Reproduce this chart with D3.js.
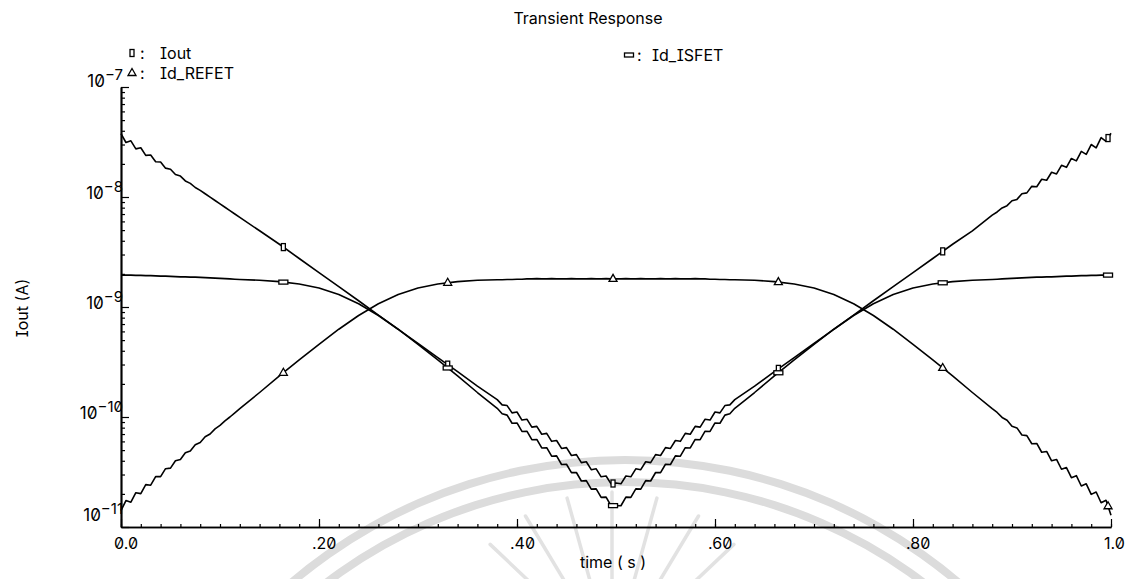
<!DOCTYPE html>
<html>
<head>
<meta charset="utf-8">
<script src="https://cdn.jsdelivr.net/npm/d3@7"></script>
<style>
  html, body { margin: 0; padding: 0; background: #fff; }
  svg text {
    font-family: Inter, "DejaVu Sans", sans-serif;
    font-feature-settings: "zero" 1, "cv08" 1;
    fill: #000;
  }
</style>
</head>
<body>
<svg id="chart" width="1142" height="579"></svg>
<script>
// Sample times of the transient run (s)
const time = [
  0, 0.005, 0.01, 0.015, 0.02, 0.025, 0.03, 0.035, 0.04, 0.045, 0.05, 0.055, 0.06, 0.065, 0.07, 0.075, 0.08, 0.085, 0.09, 0.095, 0.1, 0.105, 0.11, 0.115, 0.12,
  0.14, 0.16, 0.18, 0.2, 0.22, 0.24, 0.26, 0.28, 0.3, 0.32, 0.34, 0.36,
  0.38, 0.385, 0.39, 0.395, 0.4, 0.405, 0.41, 0.415, 0.42, 0.425, 0.43, 0.435, 0.44, 0.445, 0.45, 0.455, 0.46, 0.465, 0.47, 0.475, 0.48, 0.485, 0.49, 0.495,
  0.5, 0.505, 0.51, 0.515, 0.52, 0.525, 0.53, 0.535, 0.54, 0.545, 0.55, 0.555, 0.56, 0.565, 0.57, 0.575, 0.58, 0.585, 0.59, 0.595, 0.6, 0.605, 0.61, 0.615, 0.62,
  0.64, 0.66, 0.68, 0.7, 0.72, 0.74, 0.76, 0.78, 0.8, 0.82, 0.84, 0.86,
  0.88, 0.885, 0.89, 0.895, 0.9, 0.905, 0.91, 0.915, 0.92, 0.925, 0.93, 0.935, 0.94, 0.945, 0.95, 0.955, 0.96, 0.965, 0.97, 0.975, 0.98, 0.985, 0.99, 0.995, 1
];

// Output current (A)
const iout = [
  3.76e-8, 3.13e-8, 3.24e-8, 2.74e-8, 2.80e-8, 2.39e-8, 2.41e-8, 2.09e-8, 2.08e-8, 1.83e-8, 1.79e-8, 1.60e-8, 1.55e-8, 1.40e-8, 1.33e-8, 1.22e-8, 1.15e-8, 1.07e-8, 9.97e-9, 9.29e-9, 8.66e-9, 8.07e-9, 7.52e-9, 7.01e-9, 6.53e-9,
  4.93e-9, 3.72e-9, 2.76e-9, 2.05e-9, 1.53e-9, 1.14e-9, 8.43e-10, 6.27e-10, 4.66e-10, 3.47e-10, 2.58e-10, 1.91e-10,
  1.44e-10, 1.29e-10, 1.27e-10, 1.09e-10, 1.11e-10, 9.38e-11, 9.55e-11, 8.09e-11, 8.22e-11, 6.97e-11, 7.10e-11, 6.01e-11, 6.11e-11, 5.18e-11, 5.27e-11, 4.47e-11, 4.55e-11, 3.85e-11, 3.92e-11, 3.32e-11, 3.38e-11, 2.86e-11, 2.91e-11, 2.47e-11,
  2.51e-11, 2.47e-11, 2.91e-11, 2.86e-11, 3.38e-11, 3.32e-11, 3.92e-11, 3.85e-11, 4.55e-11, 4.47e-11, 5.27e-11, 5.18e-11, 6.11e-11, 6.01e-11, 7.10e-11, 6.97e-11, 8.22e-11, 8.09e-11, 9.55e-11, 9.38e-11, 1.11e-10, 1.09e-10, 1.27e-10, 1.29e-10, 1.44e-10,
  1.91e-10, 2.58e-10, 3.47e-10, 4.66e-10, 6.27e-10, 8.43e-10, 1.14e-9, 1.53e-9, 2.05e-9, 2.76e-9, 3.72e-9, 4.93e-9,
  6.84e-9, 7.31e-9, 7.95e-9, 8.34e-9, 9.24e-9, 9.51e-9, 1.07e-8, 1.09e-8, 1.25e-8, 1.24e-8, 1.45e-8, 1.42e-8, 1.68e-8, 1.62e-8, 1.94e-8, 1.86e-8, 2.24e-8, 2.13e-8, 2.60e-8, 2.44e-8, 3.00e-8, 2.80e-8, 3.47e-8, 3.21e-8, 3.80e-8
];

// Reference FET drain current (A)
const idRefet = [
  1.41e-11, 1.74e-11, 1.68e-11, 2.05e-11, 2.01e-11, 2.43e-11, 2.40e-11, 2.87e-11, 2.87e-11, 3.39e-11, 3.43e-11, 4.00e-11, 4.11e-11, 4.73e-11, 4.91e-11, 5.59e-11, 5.87e-11, 6.61e-11, 7.01e-11, 7.80e-11, 8.39e-11, 9.22e-11, 1.00e-10, 1.09e-10, 1.19e-10,
  1.67e-10, 2.36e-10, 3.30e-10, 4.58e-10, 6.28e-10, 8.37e-10, 1.07e-9, 1.30e-9, 1.49e-9, 1.62e-9, 1.70e-9, 1.75e-9,
  1.77e-9, 1.77e-9, 1.78e-9, 1.78e-9, 1.79e-9, 1.79e-9, 1.80e-9, 1.80e-9, 1.81e-9, 1.80e-9, 1.80e-9, 1.81e-9, 1.80e-9, 1.80e-9, 1.80e-9, 1.81e-9, 1.80e-9, 1.80e-9, 1.80e-9, 1.81e-9, 1.80e-9, 1.80e-9, 1.81e-9, 1.80e-9,
  1.80e-9, 1.80e-9, 1.81e-9, 1.80e-9, 1.80e-9, 1.81e-9, 1.80e-9, 1.80e-9, 1.80e-9, 1.81e-9, 1.80e-9, 1.80e-9, 1.81e-9, 1.80e-9, 1.80e-9, 1.80e-9, 1.81e-9, 1.80e-9, 1.80e-9, 1.79e-9, 1.79e-9, 1.78e-9, 1.78e-9, 1.77e-9, 1.77e-9,
  1.75e-9, 1.70e-9, 1.62e-9, 1.49e-9, 1.30e-9, 1.07e-9, 8.37e-10, 6.28e-10, 4.58e-10, 3.30e-10, 2.36e-10, 1.67e-10,
  1.19e-10, 1.10e-10, 9.91e-11, 9.35e-11, 8.24e-11, 7.96e-11, 6.85e-11, 6.77e-11, 5.71e-11, 5.75e-11, 4.78e-11, 4.86e-11, 4.00e-11, 4.11e-11, 3.35e-11, 3.47e-11, 2.81e-11, 2.93e-11, 2.36e-11, 2.47e-11, 1.98e-11, 2.08e-11, 1.66e-11, 1.75e-11, 1.28e-11
];

// Sensing FET drain current (A)
const idIsfet = [
  1.95e-9, 1.95e-9, 1.95e-9, 1.94e-9, 1.94e-9, 1.93e-9, 1.93e-9, 1.92e-9, 1.91e-9, 1.91e-9, 1.90e-9, 1.89e-9, 1.88e-9, 1.88e-9, 1.87e-9, 1.87e-9, 1.86e-9, 1.85e-9, 1.84e-9, 1.83e-9, 1.82e-9, 1.81e-9, 1.80e-9, 1.79e-9, 1.78e-9,
  1.75e-9, 1.70e-9, 1.62e-9, 1.49e-9, 1.30e-9, 1.07e-9, 8.37e-10, 6.28e-10, 4.58e-10, 3.30e-10, 2.36e-10, 1.67e-10,
  1.20e-10, 1.07e-10, 1.04e-10, 8.78e-11, 8.83e-11, 7.39e-11, 7.43e-11, 6.22e-11, 6.25e-11, 5.23e-11, 5.26e-11, 4.40e-11, 4.43e-11, 3.70e-11, 3.72e-11, 3.12e-11, 3.13e-11, 2.62e-11, 2.64e-11, 2.21e-11, 2.22e-11, 1.86e-11, 1.87e-11, 1.56e-11,
  1.57e-11, 1.56e-11, 1.87e-11, 1.86e-11, 2.22e-11, 2.21e-11, 2.64e-11, 2.62e-11, 3.13e-11, 3.12e-11, 3.72e-11, 3.70e-11, 4.43e-11, 4.40e-11, 5.26e-11, 5.23e-11, 6.25e-11, 6.22e-11, 7.43e-11, 7.39e-11, 8.83e-11, 8.78e-11, 1.04e-10, 1.07e-10, 1.20e-10,
  1.67e-10, 2.36e-10, 3.30e-10, 4.58e-10, 6.28e-10, 8.37e-10, 1.07e-9, 1.30e-9, 1.49e-9, 1.62e-9, 1.70e-9, 1.75e-9,
  1.78e-9, 1.79e-9, 1.80e-9, 1.81e-9, 1.82e-9, 1.83e-9, 1.84e-9, 1.85e-9, 1.86e-9, 1.87e-9, 1.87e-9, 1.88e-9, 1.88e-9, 1.89e-9, 1.90e-9, 1.91e-9, 1.91e-9, 1.92e-9, 1.93e-9, 1.93e-9, 1.94e-9, 1.94e-9, 1.95e-9, 1.95e-9, 1.95e-9
];

// Axis ticks and labels
const xTickValues = [0, 0.2, 0.4, 0.6, 0.8, 1.0];
const xTickLabels = ["0.0", ".20", ".40", ".60", ".80", "1.0"];
const yTickExponents = [-7, -8, -9, -10, -11];

// Times at which each trace carries its identifying symbol
const markerTimes = [0.164, 0.33, 0.497, 0.664, 0.83, 0.997];

const seriesNames = ["Iout", "Id_REFET", "Id_ISFET"];
const seriesValues = [iout, idRefet, idIsfet];
const seriesSymbols = ["tallRect", "triangle", "wideRect"];

const svg = d3.select("#chart");
const plot = { left: 121, right: 1111, top: 87, bottom: 527 };

const x = d3.scaleLinear().domain([0, 1]).range([plot.left, plot.right]);
const y = d3.scaleLog().domain([1e-11, 1e-7]).range([plot.bottom, plot.top]);

// ----- faint page seal printed behind the plot -----
const seal = svg.append("g").attr("fill", "#dcdcdc").attr("stroke", "none");
[[511, 519], [489, 497]].forEach(([r0, r1]) => {
  seal.append("path")
    .attr("transform", "translate(625,975)")
    .attr("d", d3.arc().innerRadius(r0).outerRadius(r1).startAngle(-0.82).endAngle(0.82)());
});
const rays = svg.append("g").attr("stroke", "#e2e2e2").attr("stroke-width", 3.5).attr("stroke-linecap", "round");
d3.range(-62, 63, 15.5).forEach(deg => {
  const a = (deg - 90) * Math.PI / 180;
  rays.append("line")
    .attr("x1", 612 + 75 * Math.cos(a)).attr("y1", 660 + 75 * Math.sin(a))
    .attr("x2", 612 + 168 * Math.cos(a)).attr("y2", 660 + 168 * Math.sin(a));
});

// ----- axes -----
function styleAxis(g, width) {
  g.selectAll("path.domain").attr("stroke", "#000").attr("stroke-width", width);
  g.selectAll(".tick line").attr("stroke", "#000").attr("stroke-width", 1.2);
  g.selectAll(".tick text").remove();
}

// x minor ticks every 0.02 s, pointing into the plot
svg.append("g")
  .attr("transform", `translate(0,${plot.bottom})`)
  .call(d3.axisBottom(x).tickValues(d3.range(0, 1.0001, 0.02)).tickSize(-3).tickSizeOuter(0).tickFormat(""))
  .call(g => styleAxis(g, 1.7));

// x major ticks
svg.append("g")
  .attr("transform", `translate(0,${plot.bottom})`)
  .call(d3.axisBottom(x).tickValues(xTickValues).tickSize(-8).tickSizeOuter(0).tickFormat(""))
  .call(g => styleAxis(g, 1.7));

svg.append("g")
  .selectAll("text")
  .data(xTickValues)
  .join("text")
  .attr("x", d => x(d) - 7)
  .attr("y", plot.bottom + 22)
  .attr("font-size", 16)
  .attr("text-anchor", "start")
  .text((d, i) => xTickLabels[i]);

// y minor ticks (2..9 in every decade)
const yMinor = y.ticks().filter(v => Math.abs(Math.log10(v) - Math.round(Math.log10(v))) > 1e-6);
svg.append("g")
  .attr("transform", `translate(${plot.left},0)`)
  .call(d3.axisLeft(y).tickValues(yMinor).tickSize(-4).tickSizeOuter(0).tickFormat(""))
  .call(g => styleAxis(g, 1.7));

// y decade ticks
svg.append("g")
  .attr("transform", `translate(${plot.left},0)`)
  .call(d3.axisLeft(y).tickValues(yTickExponents.map(e => Math.pow(10, e))).tickSize(-8).tickSizeOuter(0).tickFormat(""))
  .call(g => styleAxis(g, 1.7));

// decade labels: "10" with a raised exponent, right-aligned on the axis
const yLabelShift = { "-7": -2, "-11": -8 };
const yLabels = svg.append("g")
  .selectAll("text")
  .data(yTickExponents)
  .join("text")
  .attr("x", plot.left + 2)
  .attr("y", e => y(Math.pow(10, e)) + 2 + (yLabelShift[e] || 0))
  .attr("text-anchor", "end")
  .attr("font-size", 17);
yLabels.append("tspan").text("10");
yLabels.append("tspan")
  .attr("dy", -7)
  .attr("font-size", 15)
  .text(e => "\u2212" + Math.abs(e));

// axis titles
svg.append("text")
  .attr("transform", "translate(28,308) rotate(-90)")
  .attr("text-anchor", "middle")
  .attr("font-size", 16)
  .text("Iout (A)");

svg.append("text")
  .attr("x", 613)
  .attr("y", 568)
  .attr("text-anchor", "middle")
  .attr("font-size", 16)
  .text("time ( s )");

svg.append("text")
  .attr("x", 588)
  .attr("y", 24)
  .attr("text-anchor", "middle")
  .attr("font-size", 16)
  .text("Transient Response");

// ----- traces -----
const line = d3.line()
  .x((d, i) => x(time[i]))
  .y(d => y(d))
  .curve(d3.curveLinear);

const traces = svg.append("g").attr("fill", "none").attr("stroke", "#000")
  .attr("stroke-width", 1.6).attr("stroke-linejoin", "round");

seriesValues.forEach(vals => {
  traces.append("path").attr("d", line(vals));
});

// ----- symbols -----
function valueAt(vals, t) {
  const i = d3.bisectLeft(time, t);
  if (i <= 0) return vals[0];
  if (i >= time.length) return vals[time.length - 1];
  const f = (t - time[i - 1]) / (time[i] - time[i - 1]);
  return Math.exp(Math.log(vals[i - 1]) * (1 - f) + Math.log(vals[i]) * f);
}

function drawSymbol(g, kind, cx, cy) {
  if (kind === "tallRect") {
    g.append("rect").attr("x", cx - 2).attr("y", cy - 3.5).attr("width", 4).attr("height", 7);
  } else if (kind === "wideRect") {
    g.append("rect").attr("x", cx - 4.5).attr("y", cy - 2).attr("width", 9).attr("height", 4);
  } else {
    g.append("path")
      .attr("d", `M${cx},${cy - 4.5}L${cx + 4},${cy + 2.5}L${cx - 4},${cy + 2.5}Z`);
  }
}

const symbols = svg.append("g").attr("fill", "#fff").attr("stroke", "#000").attr("stroke-width", 1.3);
seriesValues.forEach((vals, s) => {
  markerTimes.forEach(t => {
    drawSymbol(symbols, seriesSymbols[s], x(t), y(valueAt(vals, t)));
  });
});

// ----- legend -----
const legendPos = [
  { mx: 132, my: 53, tx: 160 },
  { mx: 132, my: 73, tx: 160 },
  { mx: 629, my: 55, tx: 652 }
];
const legend = svg.append("g");
seriesNames.forEach((name, s) => {
  const p = legendPos[s];
  const sg = legend.append("g").attr("fill", "#fff").attr("stroke", "#000").attr("stroke-width", 1.3);
  drawSymbol(sg, seriesSymbols[s], p.mx, p.my);
  legend.append("text").attr("x", p.mx + 8).attr("y", p.my + 6).attr("font-size", 16).text(":");
  legend.append("text").attr("x", p.tx).attr("y", p.my + 6).attr("font-size", 16).text(name);
});
</script>
</body>
</html>
